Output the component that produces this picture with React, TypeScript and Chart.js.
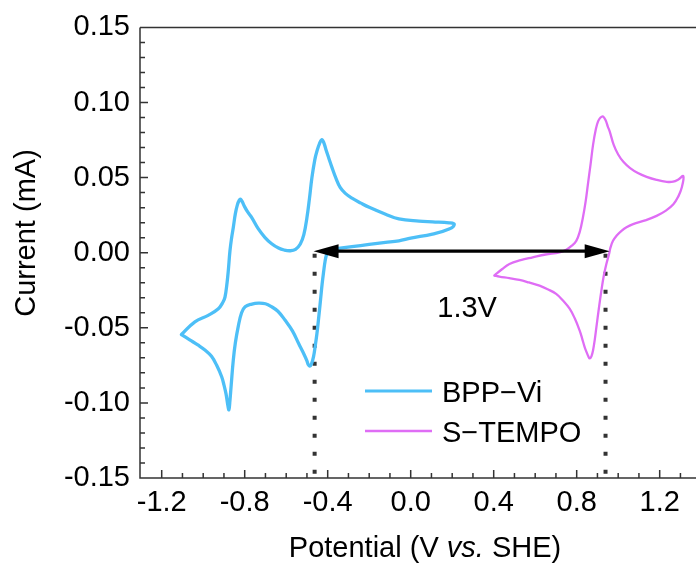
import React, { useEffect, useRef } from "react";
import { Chart, registerables } from "chart.js";

Chart.register(...registerables);

const FONT = "'Liberation Sans', Arial, Helvetica, sans-serif";

// Axis tick labels
const potentialTicks = [-1.2, -0.8, -0.4, 0.0, 0.4, 0.8, 1.2];
const currentTicks = [-0.15, -0.1, -0.05, 0.0, 0.05, 0.1, 0.15];

// BPP-Vi cyclic voltammogram (V vs. SHE, mA)
const bppPotential = [
  -1.105, -1.04, -0.976, -0.927, -0.905, -0.895, -0.885, -0.879, -0.871, -0.863, -0.855, -0.845, -0.835, -0.826,
  -0.82, -0.812, -0.80, -0.785, -0.766, -0.735, -0.702, -0.67, -0.637, -0.61, -0.581, -0.555, -0.532, -0.515, -0.50,
  -0.488, -0.476, -0.462, -0.452, -0.44, -0.428, -0.418, -0.407, -0.395, -0.38, -0.36, -0.34, -0.315, -0.283, -0.24,
  -0.20, -0.121, -0.057, 0.04, 0.105, 0.185, 0.21,
  0.185, 0.105, 0.0, -0.057, -0.121, -0.2, -0.283, -0.34, -0.38, -0.395, -0.405, -0.413, -0.419, -0.427, -0.435,
  -0.444, -0.452, -0.46, -0.468, -0.478, -0.487, -0.494, -0.50, -0.52, -0.54, -0.57, -0.605, -0.64, -0.67, -0.70,
  -0.734, -0.765, -0.798, -0.815, -0.831, -0.845, -0.855, -0.865, -0.872, -0.876, -0.882, -0.89, -0.90, -0.911,
  -0.935, -0.96, -0.99, -1.024, -1.065, -1.105,
];
const bppCurrent = [
  -0.0545, -0.046, -0.0417, -0.0373, -0.033, -0.0296, -0.02, -0.0119, 0.0013, 0.01, 0.0168, 0.026, 0.032, 0.035,
  0.0356, 0.034, 0.0305, 0.027, 0.0234, 0.016, 0.0101, 0.006, 0.0031, 0.0018, 0.0013, 0.0022, 0.0058, 0.012, 0.0234,
  0.036, 0.05, 0.062, 0.0675, 0.0725, 0.0753, 0.073, 0.068, 0.0631, 0.057, 0.0495, 0.0435, 0.0395, 0.0363, 0.033,
  0.0302, 0.0256, 0.0225, 0.021, 0.0205, 0.0199, 0.019,
  0.0157, 0.0124, 0.0097, 0.0079, 0.0068, 0.0055, 0.004, 0.003, 0.0024, 0.0015, -0.001, -0.006, -0.012, -0.021, -0.032,
  -0.044, -0.054, -0.062, -0.069, -0.074, -0.0755, -0.0745, -0.072, -0.066, -0.0605, -0.052, -0.045, -0.039, -0.036, -0.034,
  -0.0336, -0.0342, -0.036, -0.04, -0.049, -0.06, -0.0715, -0.088, -0.1, -0.1046, -0.101, -0.094, -0.088, -0.0826,
  -0.075, -0.069, -0.065, -0.0616, -0.058, -0.0545,
];

// S-TEMPO cyclic voltammogram (V vs. SHE, mA)
const tempoPotential = [
  0.403, 0.44, 0.476, 0.53, 0.588, 0.65, 0.717, 0.75, 0.775, 0.798, 0.815, 0.83, 0.843, 0.854, 0.867, 0.879, 0.892,
  0.903, 0.915, 0.927, 0.94, 0.95, 0.959, 0.978, 1.0, 1.025, 1.056, 1.095, 1.137, 1.185, 1.234, 1.265, 1.29, 1.314,
  1.306, 1.29, 1.266, 1.23, 1.185, 1.13, 1.072, 1.04, 1.016, 0.993, 0.975, 0.963, 0.956, 0.943, 0.931, 0.919, 0.907,
  0.895, 0.887, 0.879, 0.871, 0.863, 0.856, 0.847, 0.838, 0.826, 0.814, 0.79, 0.766, 0.735, 0.701, 0.66, 0.621, 0.57,
  0.524, 0.475, 0.427, 0.403,
];
const tempoCurrent = [
  -0.0152, -0.011, -0.0075, -0.005, -0.0031, -0.0012, 0.0002, 0.002, 0.0045, 0.0079, 0.014, 0.0234, 0.034, 0.0455,
  0.059, 0.072, 0.082, 0.0874, 0.09, 0.0907, 0.088, 0.084, 0.0808, 0.072, 0.0654, 0.0605, 0.0565, 0.053, 0.0505,
  0.0485, 0.0472, 0.0473, 0.0488, 0.051,
  0.0432, 0.0375, 0.0322, 0.028, 0.0245, 0.0215, 0.019, 0.017, 0.0146, 0.0115, 0.0079, 0.0035, -0.0009, -0.0075,
  -0.015, -0.0252, -0.037, -0.0495, -0.058, -0.0649, -0.069, -0.0704, -0.069, -0.066, -0.0627, -0.057, -0.0517,
  -0.0435, -0.0373, -0.032, -0.0274, -0.0243, -0.0219, -0.0198, -0.0181, -0.0169, -0.0159, -0.0152,
];

// Guide lines / annotation values
const guidePotentials = [-0.463, 0.939];
const guideCurrentRange = [0.0, -0.15];
const arrowPotentials = [-0.468, 0.959];
const arrowCurrent = 0.001;
const gapLabel = "1.3V";
const gapLabelPos = [0.272, -0.0364];
const seriesNames = ["BPP\u2212Vi", "S\u2212TEMPO"];
const seriesColors = ["#4DBFF7", "#DF6DF5"];

const xRange = [-1.3046, 1.375];
const yRange = [-0.15, 0.15];

const zip = (xs: number[], ys: number[]) => xs.map((x, i) => ({ x, y: ys[i] }));

const overlayPlugin = {
  id: "overlay",
  afterDatasetsDraw(chart: any) {
    const { ctx, scales } = chart;
    const x = scales.x;
    const y = scales.y;
    ctx.save();
    const x1 = x.getPixelForValue(arrowPotentials[0]);
    const x2 = x.getPixelForValue(arrowPotentials[1]);
    const py = y.getPixelForValue(arrowCurrent);
    const head = 25;
    const hw = 7;
    ctx.strokeStyle = "#000";
    ctx.fillStyle = "#000";
    ctx.lineWidth = 3.2;
    ctx.beginPath();
    ctx.moveTo(x1 + head - 2, py);
    ctx.lineTo(x2 - head + 2, py);
    ctx.stroke();
    ctx.beginPath();
    ctx.moveTo(x1, py);
    ctx.lineTo(x1 + head, py - hw);
    ctx.lineTo(x1 + head, py + hw);
    ctx.closePath();
    ctx.fill();
    ctx.beginPath();
    ctx.moveTo(x2, py);
    ctx.lineTo(x2 - head, py - hw);
    ctx.lineTo(x2 - head, py + hw);
    ctx.closePath();
    ctx.fill();
    ctx.font = `29px ${FONT}`;
    ctx.textAlign = "center";
    ctx.textBaseline = "alphabetic";
    ctx.fillText(gapLabel, x.getPixelForValue(gapLabelPos[0]), y.getPixelForValue(gapLabelPos[1]) + 10);
    ctx.restore();
  },
  afterDraw(chart: any) {
    const { ctx, chartArea: a, scales } = chart;
    const x = scales.x;
    const y = scales.y;
    ctx.save();
    ctx.strokeStyle = "#333";
    ctx.lineWidth = 1.5;
    ctx.beginPath();
    ctx.moveTo(a.left, a.top);
    ctx.lineTo(a.right, a.top);
    ctx.moveTo(a.left, a.top);
    ctx.lineTo(a.left, a.bottom);
    ctx.lineTo(a.right, a.bottom);
    for (let i = -15; i <= 15; i++) {
      const p = y.getPixelForValue(i / 100);
      const len = i % 5 === 0 ? 8 : 5;
      ctx.moveTo(a.left, p);
      ctx.lineTo(a.left + len, p);
    }
    for (let i = -13; i <= 13; i++) {
      const p = x.getPixelForValue(i / 10);
      if (p < a.left + 2 || p > a.right) continue;
      const len = i % 4 === 0 ? 8 : 5;
      ctx.moveTo(p, a.bottom);
      ctx.lineTo(p, a.bottom - len);
    }
    ctx.stroke();

    const lx1 = 365, lx2 = 432, tx = 442;
    const rows = [391, 431];
    ctx.font = `29px ${FONT}`;
    ctx.textAlign = "left";
    ctx.textBaseline = "alphabetic";
    rows.forEach((ry, i) => {
      ctx.strokeStyle = seriesColors[i];
      ctx.lineWidth = i === 0 ? 3 : 2.5;
      ctx.beginPath();
      ctx.moveTo(lx1, ry);
      ctx.lineTo(lx2, ry);
      ctx.stroke();
      ctx.fillStyle = "#000";
      ctx.fillText(seriesNames[i], tx, ry + 10.5);
    });

    const parts = [
      { t: "Potential (V ", f: `29px ${FONT}` },
      { t: "vs.", f: `italic 29px ${FONT}` },
      { t: " SHE)", f: `29px ${FONT}` },
    ];
    let total = 0;
    parts.forEach((p) => {
      ctx.font = p.f;
      total += ctx.measureText(p.t).width;
    });
    let cx = 425 - total / 2;
    parts.forEach((p) => {
      ctx.font = p.f;
      ctx.fillText(p.t, cx, 557);
      cx += ctx.measureText(p.t).width;
    });

    ctx.translate(35, 233);
    ctx.rotate(-Math.PI / 2);
    ctx.font = `29px ${FONT}`;
    ctx.textAlign = "center";
    ctx.fillText("Current (mA)", 0, 0);
    ctx.restore();
  },
};

export default function App() {
  const ref = useRef<HTMLCanvasElement>(null);
  useEffect(() => {
    const canvas = ref.current;
    if (!canvas) return;
    const datasets: any[] = [
      {
        label: seriesNames[0],
        data: zip(bppPotential, bppCurrent),
        borderColor: seriesColors[0],
        borderWidth: 3.3,
        borderCapStyle: "round",
        borderJoinStyle: "round",
        pointRadius: 0,
        tension: 0.4,
        fill: false,
      },
      {
        label: seriesNames[1],
        data: zip(tempoPotential, tempoCurrent),
        borderColor: seriesColors[1],
        borderWidth: 2.3,
        borderCapStyle: "round",
        borderJoinStyle: "round",
        pointRadius: 0,
        tension: 0.4,
        fill: false,
      },
      ...guidePotentials.map((gp) => ({
        label: "guide",
        data: guideCurrentRange.map((c) => ({ x: gp, y: c })),
        borderColor: "#333",
        borderWidth: 4,
        borderDash: [4, 14],
        borderDashOffset: -1,
        borderCapStyle: "butt",
        pointRadius: 0,
        tension: 0,
        fill: false,
      })),
    ];
    const chart = new Chart(canvas, {
      type: "line",
      data: { datasets },
      options: {
        responsive: false,
        maintainAspectRatio: false,
        animation: false,
        layout: { padding: { left: 0, right: 0, top: 25, bottom: 0 } },
        plugins: { legend: { display: false }, tooltip: { enabled: false } },
        scales: {
          x: {
            type: "linear",
            min: xRange[0],
            max: xRange[1],
            grid: { display: false, drawTicks: false },
            border: { display: false },
            ticks: {
              color: "#000",
              font: { family: FONT, size: 29 },
              padding: 8,
              maxRotation: 0,
              callback: (v: any) => Number(v).toFixed(1),
            },
            afterBuildTicks: (axis: any) => {
              axis.ticks = potentialTicks.map((v) => ({ value: v }));
            },
            afterFit: (s: any) => {
              s.height = 87;
            },
          },
          y: {
            type: "linear",
            min: yRange[0],
            max: yRange[1],
            grid: { display: false, drawTicks: false },
            border: { display: false },
            ticks: {
              color: "#000",
              font: { family: FONT, size: 29 },
              padding: 10,
              callback: (v: any) => Number(v).toFixed(2),
            },
            afterBuildTicks: (axis: any) => {
              axis.ticks = currentTicks.map((v) => ({ value: v }));
            },
            afterFit: (s: any) => {
              s.width = 140;
            },
          },
        },
      },
      plugins: [overlayPlugin],
    });
    return () => chart.destroy();
  }, []);
  return (
    <div style={{ position: "absolute", left: 0, top: 0, width: 696, height: 565 }}>
      <canvas ref={ref} width={696} height={565} style={{ display: "block", width: 696, height: 565 }} />
    </div>
  );
}
